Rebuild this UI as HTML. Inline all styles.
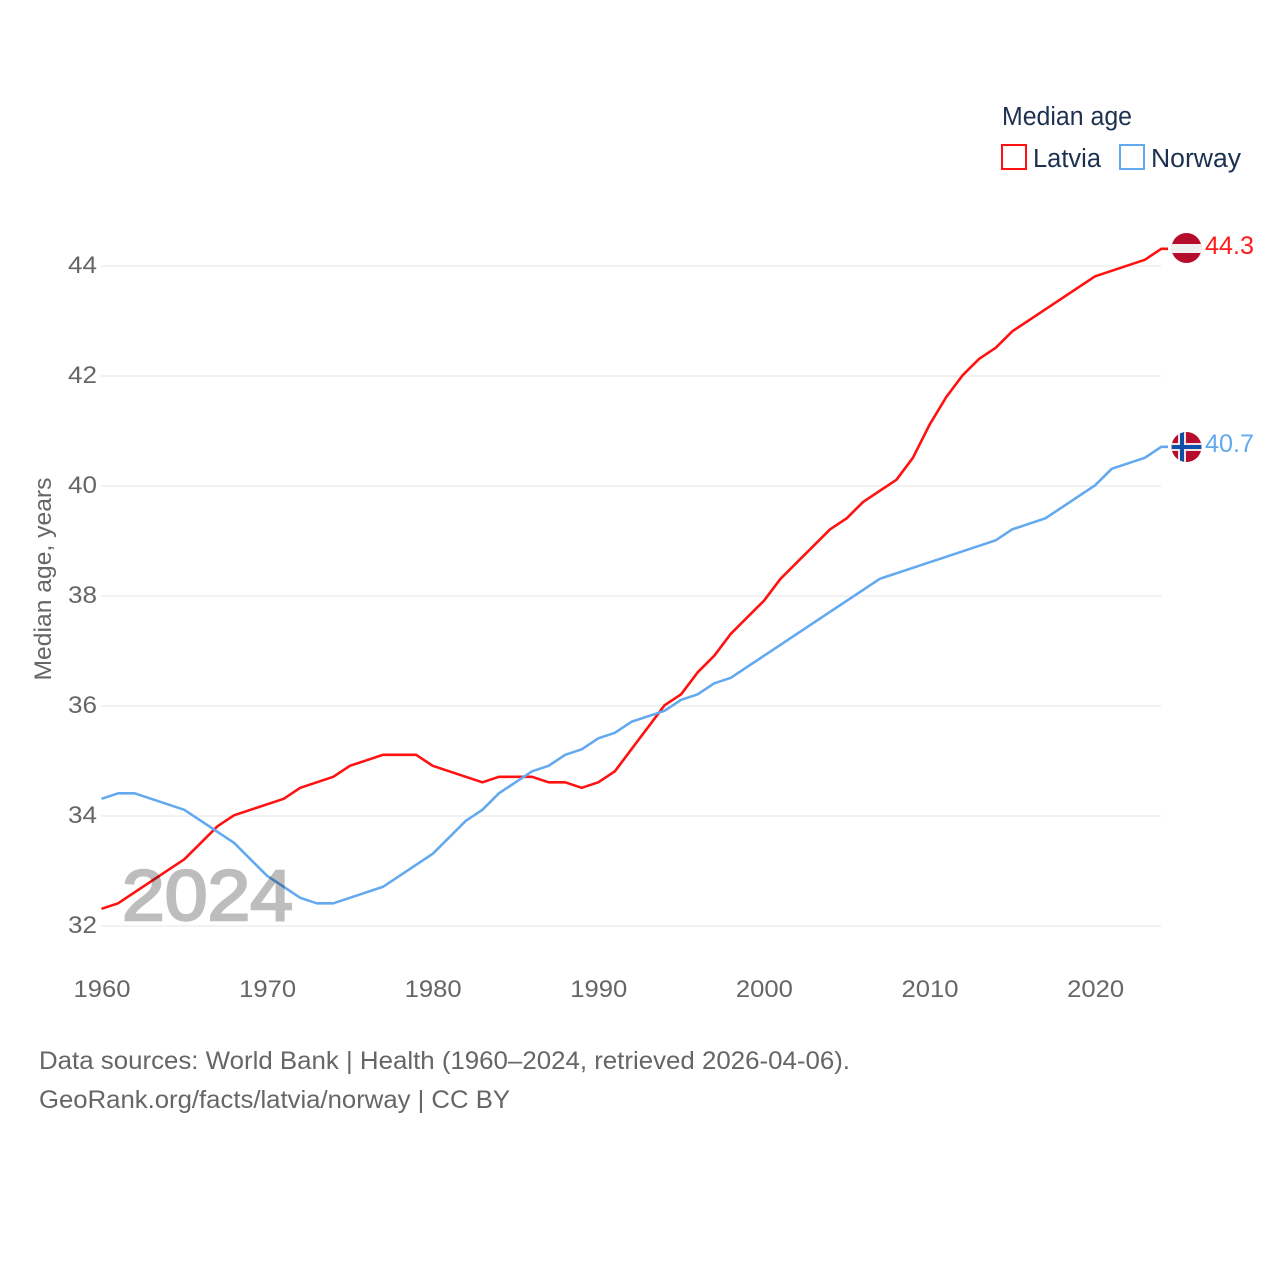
<!DOCTYPE html>
<html lang="en">
<head>
<meta charset="utf-8">
<title>Median age: Latvia and Norway</title>
<style>
html,body{margin:0;padding:0;background:#fff;width:1280px;height:1280px;overflow:hidden}
svg{display:block;font-family:"Liberation Sans",sans-serif}
.tick{font-size:24.5px;fill:#666}
.src{font-size:25px;fill:#666}
.leg{font-size:25.5px;fill:#1c3150}
</style>
</head>
<body>
<svg id="chart" width="1280" height="1280" viewBox="0 0 1280 1280" xmlns="http://www.w3.org/2000/svg">
  <defs>
    <clipPath id="clip-lv"><circle cx="1186.5" cy="248" r="15"/></clipPath>
    <clipPath id="clip-no"><circle cx="1186.5" cy="447" r="15"/></clipPath>
  </defs>
  <g id="grid"></g>
  <g id="yticks"></g>
  <g id="xticks"></g>
  <text class="tick" transform="translate(51 579) rotate(-90)" text-anchor="middle" textLength="203" lengthAdjust="spacingAndGlyphs">Median age, years</text>
  <g id="series"></g>
  <text x="122" y="920" font-size="71" font-weight="400" fill="#bdbdbd" stroke="#bdbdbd" stroke-width="2.4" textLength="171" lengthAdjust="spacingAndGlyphs" style="mix-blend-mode:multiply">2024</text>

  <g clip-path="url(#clip-lv)">
    <rect x="1170" y="232" width="33" height="32" fill="#b50d2b"/>
    <rect x="1170" y="244" width="33" height="9" fill="#f0f0f0"/>
  </g>
  <g clip-path="url(#clip-no)">
    <rect x="1170" y="431" width="33" height="32" fill="#b50d2b"/>
    <rect x="1178" y="431" width="8" height="32" fill="#f2e4e4"/>
    <rect x="1170" y="443" width="33" height="8" fill="#f2e4e4"/>
    <rect x="1180" y="431" width="4" height="32" fill="#0f4fa8"/>
    <rect x="1170" y="445" width="33" height="4" fill="#0f4fa8"/>
  </g>
  <text x="1205" y="254" font-size="25" fill="#ff1a1a" textLength="49" lengthAdjust="spacingAndGlyphs">44.3</text>
  <text x="1205" y="452" font-size="25" fill="#63a9ef" textLength="49" lengthAdjust="spacingAndGlyphs">40.7</text>

  <g>
    <text class="leg" x="1002" y="125" textLength="130" lengthAdjust="spacingAndGlyphs">Median age</text>
    <rect x="1002" y="145" width="24" height="24" fill="#fff" stroke="#ff1111" stroke-width="2"/>
    <text class="leg" x="1033" y="167" textLength="68" lengthAdjust="spacingAndGlyphs">Latvia</text>
    <rect x="1120" y="145" width="24" height="24" fill="#fff" stroke="#63a9ef" stroke-width="2"/>
    <text class="leg" x="1151" y="167" textLength="90" lengthAdjust="spacingAndGlyphs">Norway</text>
  </g>

  <text class="src" x="39" y="1069" textLength="811" lengthAdjust="spacingAndGlyphs">Data sources: World Bank | Health (1960–2024, retrieved 2026-04-06).</text>
  <text class="src" x="39" y="1108" textLength="471" lengthAdjust="spacingAndGlyphs">GeoRank.org/facts/latvia/norway | CC BY</text>
</svg>
<script>
const years = [1960,1961,1962,1963,1964,1965,1966,1967,1968,1969,1970,1971,1972,1973,1974,1975,1976,1977,1978,1979,1980,1981,1982,1983,1984,1985,1986,1987,1988,1989,1990,1991,1992,1993,1994,1995,1996,1997,1998,1999,2000,2001,2002,2003,2004,2005,2006,2007,2008,2009,2010,2011,2012,2013,2014,2015,2016,2017,2018,2019,2020,2021,2022,2023,2024];
const latvia = [32.3,32.4,32.6,32.8,33.0,33.2,33.5,33.8,34.0,34.1,34.2,34.3,34.5,34.6,34.7,34.9,35.0,35.1,35.1,35.1,34.9,34.8,34.7,34.6,34.7,34.7,34.7,34.6,34.6,34.5,34.6,34.8,35.2,35.6,36.0,36.2,36.6,36.9,37.3,37.6,37.9,38.3,38.6,38.9,39.2,39.4,39.7,39.9,40.1,40.5,41.1,41.6,42.0,42.3,42.5,42.8,43.0,43.2,43.4,43.6,43.8,43.9,44.0,44.1,44.3];
const norway = [34.3,34.4,34.4,34.3,34.2,34.1,33.9,33.7,33.5,33.2,32.9,32.7,32.5,32.4,32.4,32.5,32.6,32.7,32.9,33.1,33.3,33.6,33.9,34.1,34.4,34.6,34.8,34.9,35.1,35.2,35.4,35.5,35.7,35.8,35.9,36.1,36.2,36.4,36.5,36.7,36.9,37.1,37.3,37.5,37.7,37.9,38.1,38.3,38.4,38.5,38.6,38.7,38.8,38.9,39.0,39.2,39.3,39.4,39.6,39.8,40.0,40.3,40.4,40.5,40.7];
const yTickLabels = [32,34,36,38,40,42,44];
const xTickLabels = [1960,1970,1980,1990,2000,2010,2020];

const NS = 'http://www.w3.org/2000/svg';
function xScale(year){ return 101.5 + (year - 1960) * 16.56; }
function yScale(age){ return 926 - (age - 32) * 55; }

const gridGroup = document.getElementById('grid');
const yGroup = document.getElementById('yticks');
const xGroup = document.getElementById('xticks');
const seriesGroup = document.getElementById('series');

yTickLabels.forEach(function(v){
  const line = document.createElementNS(NS, 'line');
  
  
  line.setAttribute('x1', 101);
  line.setAttribute('x2', xScale(2024));
  line.setAttribute('y1', yScale(v));
  line.setAttribute('y2', yScale(v));
  line.setAttribute('stroke', '#e6e6e6');
  line.setAttribute('stroke-width', '1');
  gridGroup.appendChild(line);

  const t = document.createElementNS(NS, 'text');
  
  
  t.setAttribute('class', 'tick');
  t.setAttribute('x', 68);
  t.setAttribute('y', yScale(v) + 7);
  t.setAttribute('textLength', '29');
  t.setAttribute('lengthAdjust', 'spacingAndGlyphs');
  t.textContent = v;
  yGroup.appendChild(t);
});

xTickLabels.forEach(function(v){
  const t = document.createElementNS(NS, 'text');
  
  
  t.setAttribute('class', 'tick');
  t.setAttribute('x', xScale(v) + 0.5);
  t.setAttribute('y', 997);
  t.setAttribute('text-anchor', 'middle');
  t.setAttribute('textLength', '57');
  t.setAttribute('lengthAdjust', 'spacingAndGlyphs');
  t.textContent = v;
  xGroup.appendChild(t);
});

function drawSeries(values, color){
  const pts = values.map(function(v, i){ return xScale(years[i]).toFixed(1) + ',' + (yScale(v) - 0.7).toFixed(1); });
  const last = values[values.length - 1];
  pts.push('1168,' + (yScale(last) - 0.7).toFixed(1));
  const p = document.createElementNS(NS, 'polyline');
  
  
  p.setAttribute('points', pts.join(' '));
  p.setAttribute('fill', 'none');
  p.setAttribute('stroke', color);
  p.setAttribute('stroke-width', '2.6');
  p.setAttribute('stroke-linejoin', 'round');
  seriesGroup.appendChild(p);
}
drawSeries(latvia, '#ff1111');
drawSeries(norway, '#63a9ef');
</script>
</body>
</html>
